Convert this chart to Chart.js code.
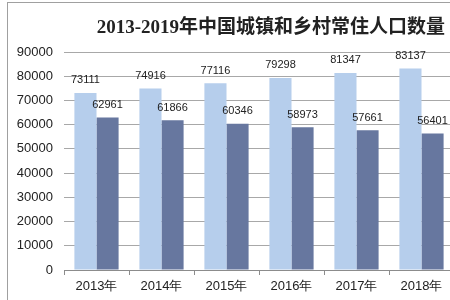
<!DOCTYPE html>
<html>
<head>
<meta charset="utf-8">
<script src="https://cdn.jsdelivr.net/npm/chart.js@4"></script>
<style>
  html, body { margin: 0; padding: 0; background: #fff; overflow: hidden; }
  #wrap { position: relative; width: 450px; height: 300px; overflow: hidden; }
  #frame { position: absolute; left: 7px; top: 2px; width: 460px; height: 310px;
           border-left: 1px solid #a0a0a0; border-top: 1px solid #a0a0a0; }
  #title { position: absolute; right: 5px; top: 11px; white-space: nowrap;
           font: bold 19px "Liberation Serif", "Noto Sans CJK SC", serif; color: #222; }
  canvas { position: absolute; left: 0; top: 0; }
</style>
</head>
<body>
<div id="wrap">
  <div id="frame"></div>
  <canvas id="popChart" width="456" height="300"></canvas>
  <div id="title">2013-2019年中国城镇和乡村常住人口数量</div>
</div>
<script>
const years = ["2013年", "2014年", "2015年", "2016年", "2017年", "2018年"];
const urban = [73111, 74916, 77116, 79298, 81347, 83137];
const rural = [62961, 61866, 60346, 58973, 57661, 56401];
const yTicks = [0, 10000, 20000, 30000, 40000, 50000, 60000, 70000, 80000, 90000];

// draws the value above each bar
const barLabels = {
  id: "barLabels",
  afterDatasetsDraw(chart) {
    const ctx = chart.ctx;
    ctx.save();
    ctx.font = '11px "Liberation Sans", Arial, sans-serif';
    ctx.fillStyle = "#222";
    ctx.textAlign = "center";
    ctx.textBaseline = "bottom";
    chart.data.datasets.forEach((ds, i) => {
      chart.getDatasetMeta(i).data.forEach((bar, j) => {
        ctx.fillText(ds.data[j], bar.x, bar.y - 7);
      });
    });
    ctx.restore();
  },
};

const ctx = document.getElementById("popChart").getContext("2d");

new Chart(ctx, {
  type: "bar",
  data: {
    labels: years,
    datasets: [
      {
        label: "城镇",
        data: urban,
        backgroundColor: "rgb(182, 206, 236)",
        categoryPercentage: 0.68,
        barPercentage: 1,
      },
      {
        label: "乡村",
        data: rural,
        backgroundColor: "rgb(103, 119, 159)",
        categoryPercentage: 0.68,
        barPercentage: 1,
      },
    ],
  },
  options: {
    responsive: false,
    animation: false,
    layout: { padding: { top: 52, left: 16, right: 2, bottom: 0 } },
    plugins: {
      legend: { display: false },
      title: { display: false },
      tooltip: { enabled: false },
    },
    scales: {
      x: {
        grid: { offset: true, drawOnChartArea: false, tickLength: 5, color: "#8c8c8c" },
        border: { color: "#8c8c8c" },
        ticks: {
          padding: 4,
          color: "#222",
          font: { family: '"Liberation Sans", Arial, sans-serif', size: 13 },
        },
        afterFit(scale) { scale.height = 30; },
      },
      y: {
        min: 0,
        max: 90000,
        afterBuildTicks(scale) { scale.ticks = yTicks.map(v => ({ value: v })); },
        grid: { drawTicks: false, color: "#a8a8a8" },
        border: { display: false },
        ticks: {
          padding: 11,
          color: "#222",
          font: { family: '"Liberation Sans", Arial, sans-serif', size: 13 },
          callback: (v) => String(v),
        },
        afterFit(scale) { scale.width = 48; },
      },
    },
  },
  plugins: [barLabels],
});
</script>
</body>
</html>
